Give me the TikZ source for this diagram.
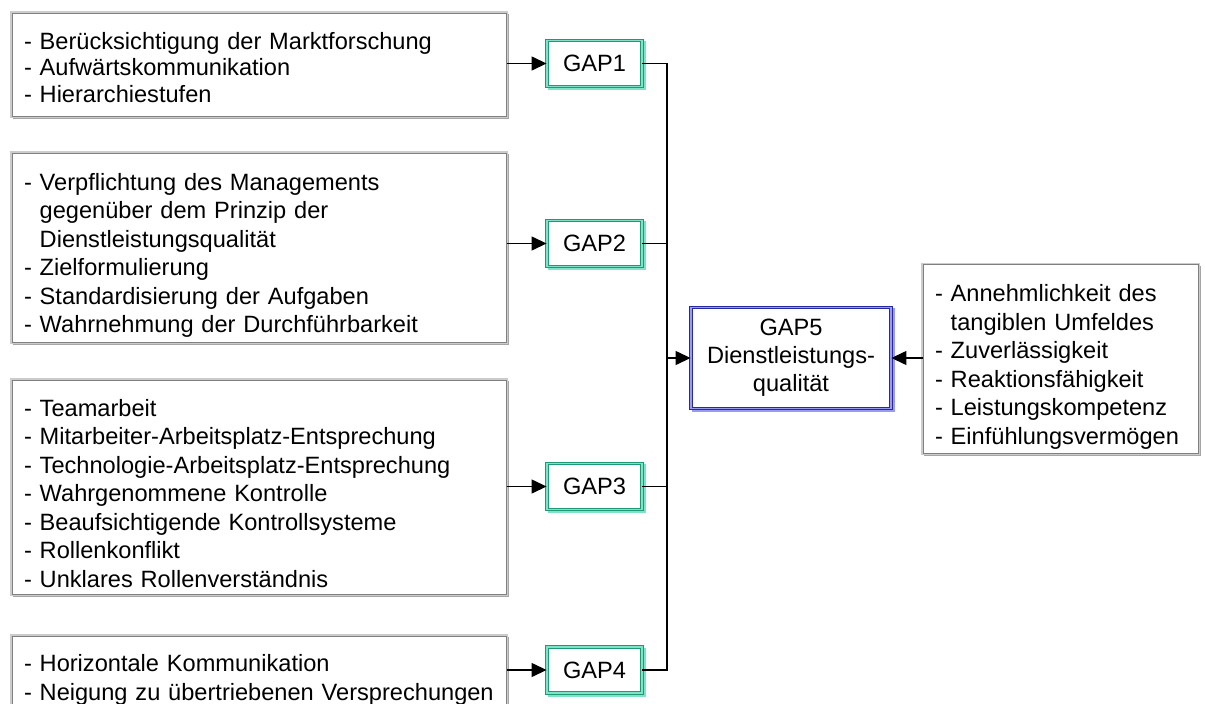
\documentclass[tikz,border=0pt]{standalone}
\usepackage{fontspec}
\setmainfont{Liberation Sans}
\usetikzlibrary{shadows,arrows.meta}
\definecolor{frameDark}{HTML}{808080}
\definecolor{frameLight}{HTML}{CCCCCC}
\definecolor{frameShadow}{HTML}{A6A6A6}
\definecolor{gapDark}{HTML}{1E9878}
\definecolor{gapLight}{HTML}{7FE3C6}
\definecolor{qDark}{HTML}{2828A0}
\definecolor{qLight}{HTML}{9A9AF0}
\newcommand{\hang}{\hphantom{-}\ }
\newcommand{\topstrut}[1]{\rule{0pt}{#1}}
\tikzset{
  listbox/.style={
    copy shadow={shadow xshift=2pt, shadow yshift=-2pt, draw=frameShadow, line width=2.5pt, fill=none},
    preaction={draw=frameLight, line width=3.5pt},
    draw=frameDark, line width=1pt, fill=white,
    align=left, inner xsep=12pt, inner ysep=4pt,
    font=\fontsize{23.6}{28.5}\selectfont},
  gapbox/.style={
    copy shadow={shadow xshift=2pt, shadow yshift=-2pt, draw=gapLight, line width=3pt, fill=none},
    draw=gapDark, line width=0.9pt, double=gapLight, double distance=1.5pt, fill=white,
    minimum width=95pt, minimum height=46pt, inner sep=0pt,
    font=\fontsize{23.6}{28}\selectfont},
  qbox/.style={
    copy shadow={shadow xshift=2pt, shadow yshift=-2pt, draw=qLight, line width=3pt, fill=none},
    draw=qDark, line width=0.9pt, double=qLight, double distance=1.5pt, fill=white,
    minimum width=200pt, minimum height=101pt, inner sep=0pt, align=center,
    font=\fontsize{23.6}{28}\selectfont},
  link/.style={line width=1.4pt, black},
  arr/.style={link, -{Triangle[length=15pt,width=14pt]}}
}
\begin{document}
\begin{tikzpicture}[x=1pt, y=-1pt]
  \clip (0,0) rectangle (1205,704);
  \fill[white] (0,0) rectangle (1205,704);

  % factor lists on the left
  \node[listbox, minimum width=494pt, minimum height=103pt, text width=470pt,
        font=\fontsize{23.6}{26.5}\selectfont] (b1) at (259,64.5)
    {\topstrut{23pt}- Berücksichtigung der Marktforschung\\- Aufwärtskommunikation\\- Hierarchiestufen};
  \node[listbox, minimum width=494pt, minimum height=189pt, text width=470pt] (b2) at (259,247.5)
    {\topstrut{33pt}- Verpflichtung des Managements\\\hang gegenüber dem Prinzip der\\\hang Dienstleistungsqualität\\- Zielformulierung\\- Standardisierung der Aufgaben\\- Wahrnehmung der Durchführbarkeit};
  \node[listbox, minimum width=494pt, minimum height=214pt, text width=470pt] (b3) at (259,487)
    {\topstrut{30pt}- Teamarbeit\\- Mitarbeiter-Arbeitsplatz-Entsprechung\\- Technologie-Arbeitsplatz-Entsprechung\\- Wahrgenommene Kontrolle\\- Beaufsichtigende Kontrollsysteme\\- Rollenkonflikt\\- Unklares Rollenverständnis};
  \node[listbox, minimum width=494pt, minimum height=80pt, text width=470pt] (b4) at (259,676)
    {\topstrut{25pt}- Horizontale Kommunikation\\- Neigung zu übertriebenen Versprechungen};

  % gap nodes
  \node[gapbox] (g1) at (594.5,63.5) {GAP1};
  \node[gapbox] (g2) at (594.5,243.5) {GAP2};
  \node[gapbox] (g3) at (594.5,486.5) {GAP3};
  \node[gapbox] (g4) at (594.5,670) {GAP4};

  % service quality
  \node[qbox] (g5) at (791,358) {GAP5\\Dienstleistungs-\\qualität};

  % customer-side list
  \node[listbox, minimum width=275pt, minimum height=188pt, text width=251pt] (r) at (1060.5,359)
    {\topstrut{33pt}- Annehmlichkeit des\\\hang tangiblen Umfeldes\\- Zuverlässigkeit\\- Reaktionsfähigkeit\\- Leistungskompetenz\\- Einfühlungsvermögen};

  % connectors
  \draw[arr] (g1.west -| b1.east) -- (g1.west);
  \draw[arr] (g2.west -| b2.east) -- (g2.west);
  \draw[arr] (g3.west -| b3.east) -- (g3.west);
  \draw[arr] (g4.west -| b4.east) -- (g4.west);

  \coordinate (j) at (667,358);
  \draw[link] (g1.east) -| (j);
  \draw[link] (g4.east) -| (j);
  \draw[link] (g2.east) -- (g2.east -| j);
  \draw[link] (g3.east) -- (g3.east -| j);
  \draw[arr] (j) -- (g5.west);
  \draw[arr] (r.west |- g5.east) -- (g5.east);
\end{tikzpicture}
\end{document}
